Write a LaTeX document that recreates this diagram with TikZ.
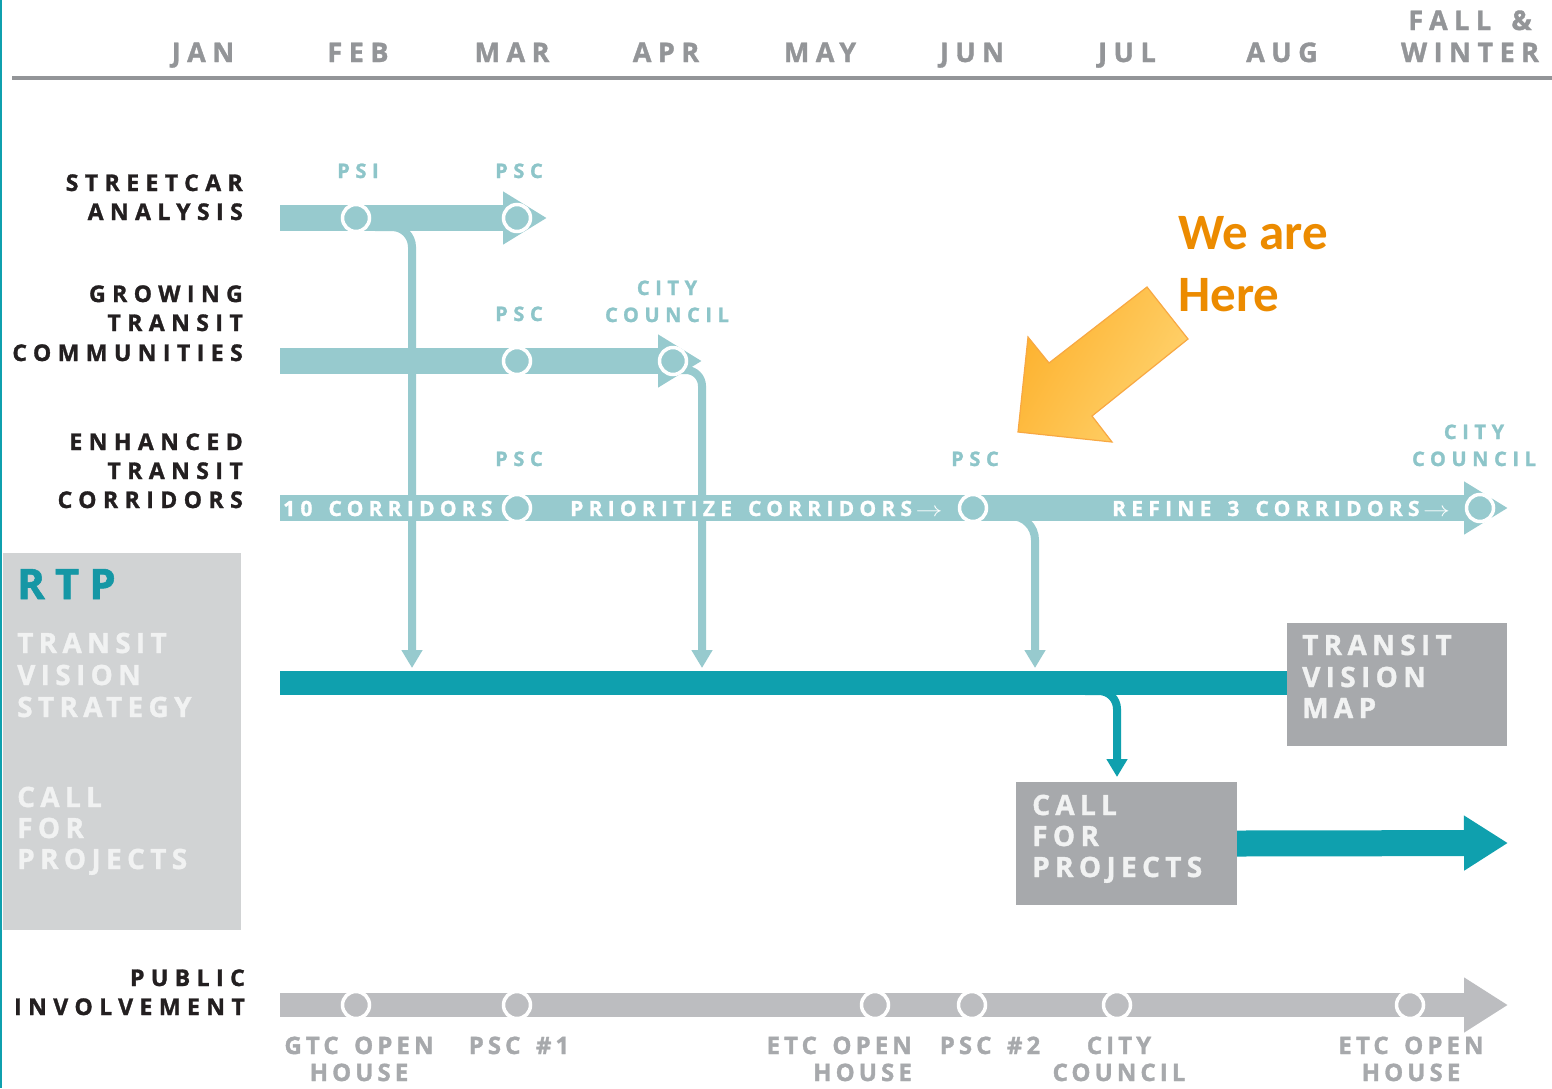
\documentclass[tikz,border=0pt]{standalone}
\usepackage{fontspec}
\usetikzlibrary{arrows.meta}
\newfontfamily\OS[WordSpace=1.5, BoldFeatures={FakeBold=1.3}]{Open Sans}
\newfontfamily\CAL{Carlito}
\newcommand\trk[2]{\fontsize{#1}{#1}\selectfont\addfontfeature{LetterSpace=#2}}
\newcommand\tarrow{\,\scalebox{1.3}[1]{$\rightarrow$}}
\definecolor{tealL}{HTML}{97CACE}
\definecolor{tealT}{HTML}{8DC5C9}
\definecolor{tealD}{HTML}{0FA0AE}
\definecolor{rtpC}{HTML}{1597A5}
\definecolor{barG}{HTML}{BCBDC0}
\definecolor{boxG}{HTML}{A7A9AC}
\definecolor{sideG}{HTML}{D1D3D4}
\definecolor{monG}{HTML}{939598}
\definecolor{labG}{HTML}{A7A9AC}
\definecolor{ink}{HTML}{231F20}
\definecolor{boxW}{HTML}{F1F2F2}
\definecolor{orT}{HTML}{EC8B00}
\definecolor{orA}{HTML}{FDB22F}
\definecolor{orB}{HTML}{FFD36F}
\definecolor{orE}{HTML}{F8A842}
\begin{document}
\begin{tikzpicture}[x=1pt,y=-1pt,
  month/.style={font=\OS\bfseries\trk{27}{24}, text=monG, anchor=base, inner sep=0pt},
  rowlab/.style={font=\OS\bfseries\trk{23}{28}, text=ink, anchor=base east, inner sep=0pt},
  tlab/.style={font=\OS\bfseries\trk{20}{28}, text=tealT, anchor=base, inner sep=0pt},
  bartxt/.style={font=\OS\bfseries\trk{21}{25}, text=white, anchor=base west, inner sep=0pt},
  boxtxt/.style={font=\OS\bfseries\trk{28}{19}, text=boxW, anchor=base west, inner sep=0pt},
  glab/.style={font=\OS\bfseries\trk{24}{17}, text=labG, anchor=base, inner sep=0pt},
  mstone/.style={circle, draw=white, line width=3.5pt, minimum size=27pt, inner sep=0pt},
  tbar/.style={draw=tealL, line width=26pt, -{Triangle[length=44pt,width=50pt]}},
  tvert/.style={draw=tealL, line width=8pt, rounded corners=20pt, -{Triangle[length=18pt,width=20pt]}},
  dvert/.style={draw=tealD, line width=8pt, rounded corners=18pt, -{Triangle[length=18pt,width=20pt]}},
  gbox/.style={fill=boxG, minimum width=221pt, minimum height=123pt, inner sep=0pt},
]
\useasboundingbox (0,0) rectangle (1552,1088);
\fill[white] (0,0) rectangle (1552,1088);
% slide edge
\draw[tealD, line width=2.5pt] (1.2,0) -- (1.2,1088);

% ---- month header ----
\node[month] (jan) at (203,62) {JAN};
\node[month] (feb) at (358,62) {FEB};
\node[month] (mar) at (512,62) {MAR};
\node[month] (apr) at (666,62) {APR};
\node[month] (may) at (820,62) {MAY};
\node[month] (jun) at (972,62) {JUN};
\node[month] (jul) at (1127,62) {JUL};
\node[month] (aug) at (1282,62) {AUG};
\node[month] (fall) at (1470,30) {FALL \&};
\node[month] (win) at (1470,62) {WINTER};
\draw[monG, line width=4pt] (12,78) -- (1552,78);

% ---- row titles ----
\node[rowlab] (sa1) at (243,191) {STREETCAR};
\node[rowlab] (sa2) at (243,220) {ANALYSIS};
\node[rowlab] (gt1) at (243,302) {GROWING};
\node[rowlab] (gt2) at (243,331) {TRANSIT};
\node[rowlab] (gt3) at (243,361) {COMMUNITIES};
\node[rowlab] (et1) at (243,450) {ENHANCED};
\node[rowlab] (et2) at (243,479) {TRANSIT};
\node[rowlab] (et3) at (243,508) {CORRIDORS};
\node[rowlab] (pi1) at (245,986) {PUBLIC};
\node[rowlab] (pi2) at (245,1015) {INVOLVEMENT};

% ---- RTP side panel ----
\fill[sideG] (3,553) rectangle (241,930);
\node[font=\OS\bfseries\trk{42}{24}, text=rtpC, anchor=base west, inner sep=0pt] (rtp) at (17,599) {RTP};
\node[boxtxt] (tv1) at (17,653) {TRANSIT};
\node[boxtxt] (tv2) at (17,685) {VISION};
\node[boxtxt] (tv3) at (17,717) {STRATEGY};
\node[boxtxt] (cp1) at (17,807) {CALL};
\node[boxtxt] (cp2) at (17,838) {FOR};
\node[boxtxt] (cp3) at (17,869) {PROJECTS};

% ---- light teal bars ----
\coordinate (sc0) at (280,218); \coordinate (sc1) at (547,218);
\coordinate (gc0) at (280,361); \coordinate (gc1) at (702,361);
\coordinate (ec0) at (280,508); \coordinate (ec1) at (1508,508);
\draw[tbar] (sc0) -- (sc1);
\draw[tbar] (gc0) -- (gc1);
\draw[tbar] (ec0) -- (ec1);

% ---- RTP bar ----
\coordinate (rt0) at (280,683); \coordinate (rt1) at (1292,683);
\draw[tealD, line width=24pt] (rt0) -- (rt1);

% ---- branches down to the RTP bar ----
\coordinate (scb) at (375,227);  \coordinate (rtA) at (412,668);
\coordinate (gcb) at (676,370);  \coordinate (rtB) at (702,668);
\coordinate (ecb) at (976,516);  \coordinate (rtC) at (1035,668);
\draw[tvert] (scb) -| (rtA);
\draw[tvert, rounded corners=16pt] (gcb) -| (rtB);
\draw[tvert, rounded corners=24pt] (ecb) -| (rtC);
\coordinate (rtb) at (1085,691); \coordinate (cfA) at (1117,777);
\draw[dvert] (rtb) -| (cfA);

% ---- milestones ----
\node[mstone, fill=tealL] (psi) at (356,218) {};
\node[mstone, fill=tealL] (scp) at (517,218) {};
\node[mstone, fill=tealL] (gcp) at (517,361) {};
\node[mstone, fill=tealL] (gcc) at (673,361) {};
\node[mstone, fill=tealL] (ecp) at (517,508) {};
\node[mstone, fill=tealL] (ecq) at (973,508) {};
\node[mstone, fill=tealL] (ecc) at (1480,508) {};

% ---- milestone labels ----
\node[tlab] (lpsi) at (358,178) {PSI};
\node[tlab] (lscp) at (519,178) {PSC};
\node[tlab] (lgcp) at (519,321) {PSC};
\node[tlab] (lgc1) at (667,295) {CITY};
\node[tlab] (lgc2) at (667,322) {COUNCIL};
\node[tlab] (lecp) at (519,466) {PSC};
\node[tlab] (lecq) at (975,466) {PSC};
\node[tlab] (lec1) at (1474,439) {CITY};
\node[tlab] (lec2) at (1474,466) {COUNCIL};

% ---- text on the corridor bar ----
\node[bartxt] (t10) at (283,516) {10 CORRIDORS};
\node[bartxt] (tpr) at (570,516) {PRIORITIZE CORRIDORS\tarrow};
\node[bartxt] (trf) at (1112,516) {REFINE 3 CORRIDORS\tarrow};

% ---- RTP products ----
\node[gbox, minimum width=220pt] (map) at (1397,684.5) {};
\node[boxtxt] (mp1) at (1302,655) {TRANSIT};
\node[boxtxt] (mp2) at (1302,687) {VISION};
\node[boxtxt] (mp3) at (1302,718) {MAP};
\node[gbox] (call) at (1126.5,843.5) {};
\node[boxtxt] (cl1) at (1032,815) {CALL};
\node[boxtxt] (cl2) at (1032,846) {FOR};
\node[boxtxt] (cl3) at (1032,877) {PROJECTS};
\coordinate (callEnd) at (1508,843);
\draw[tealD, line width=26pt, -{Triangle[length=44pt,width=52pt]}] (call.east) -- (callEnd);

% ---- public involvement ----
\coordinate (pi0) at (280,1005); \coordinate (piE) at (1508,1005);
\draw[barG, line width=24pt, -{Triangle[length=44pt,width=52pt]}] (pi0) -- (piE);
\node[mstone, fill=barG] (g1) at (356,1005) {};
\node[mstone, fill=barG] (g2) at (517,1005) {};
\node[mstone, fill=barG] (g3) at (875,1005) {};
\node[mstone, fill=barG] (g4) at (972,1005) {};
\node[mstone, fill=barG] (g5) at (1117,1005) {};
\node[mstone, fill=barG] (g6) at (1410,1005) {};
\node[glab] (lg1a) at (359,1054) {GTC OPEN};
\node[glab] (lg1b) at (359,1081) {HOUSE};
\node[glab] (lg2) at (519,1054) {PSC \#1};
\node[glab, anchor=base east] (lg3a) at (912,1054) {ETC OPEN};
\node[glab, anchor=base east] (lg3b) at (912,1081) {HOUSE};
\node[glab] (lg4) at (990,1054) {PSC \#2};
\node[glab] (lg5a) at (1119,1054) {CITY};
\node[glab] (lg5b) at (1119,1081) {COUNCIL};
\node[glab] (lg6a) at (1411,1054) {ETC OPEN};
\node[glab] (lg6b) at (1411,1081) {HOUSE};

% ---- "we are here" callout ----
\shade[left color=orA, right color=orB, shading angle=60]
  (1147,287) -- (1188,339) -- (1092,416) -- (1112,442) -- (1018,432)
  -- (1028,337) -- (1049,363) -- cycle;
\draw[orE, line width=1.2pt, line join=miter]
  (1147,287) -- (1188,339) -- (1092,416) -- (1112,442) -- (1018,432)
  -- (1028,337) -- (1049,363) -- cycle;
\node[font=\CAL\bfseries\fontsize{51}{51}\selectfont, text=orT, anchor=base west, inner sep=0pt] (we) at (1178,249) {We are};
\node[font=\CAL\bfseries\fontsize{51}{51}\selectfont, text=orT, anchor=base west, inner sep=0pt] (here) at (1178,311) {Here};
\end{tikzpicture}
\end{document}
